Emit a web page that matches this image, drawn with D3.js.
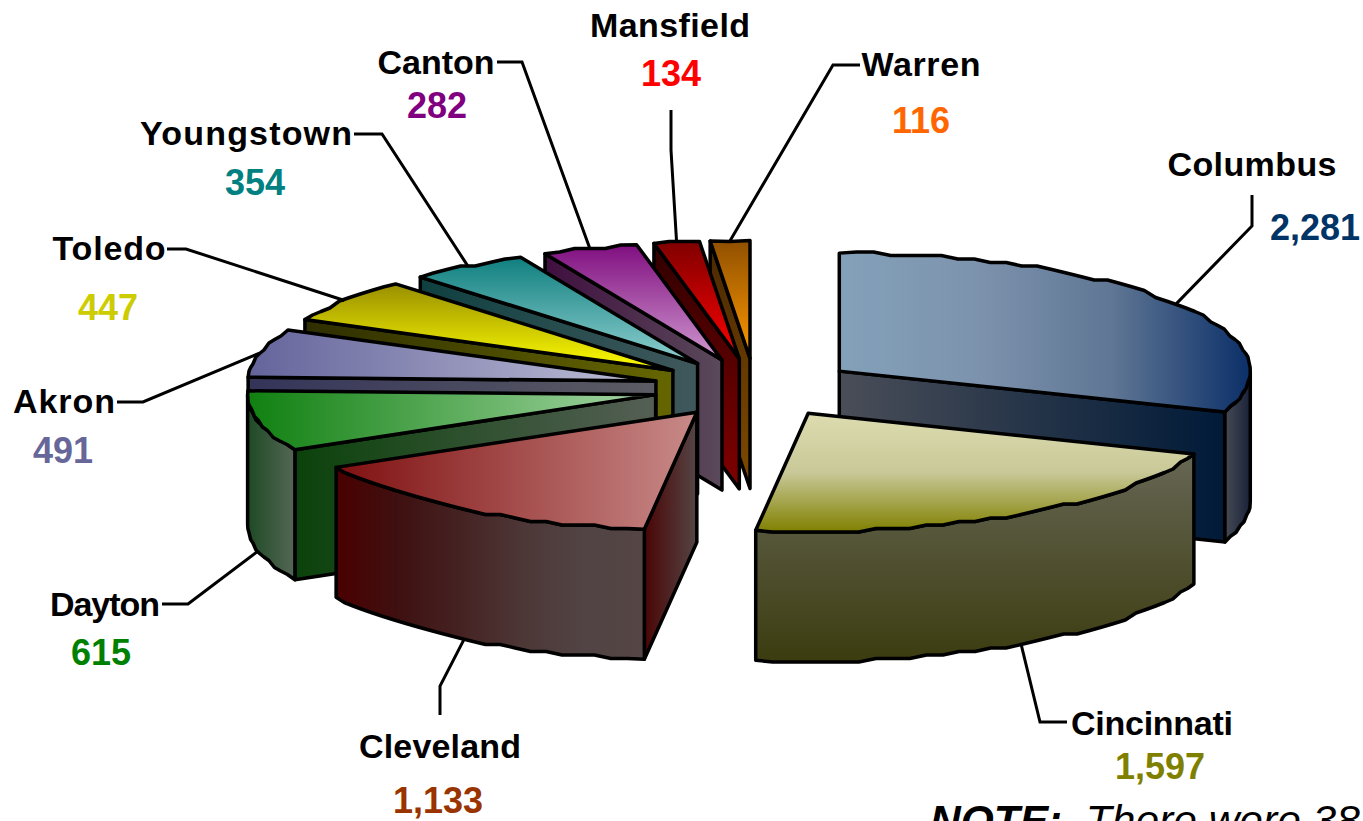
<!DOCTYPE html>
<html><head><meta charset="utf-8">
<script src="https://cdnjs.cloudflare.com/ajax/libs/d3/7.8.5/d3.min.js"></script>
<style>html,body{margin:0;background:#fff;overflow:hidden}svg{display:block}text{font-family:"Liberation Sans",Arial,sans-serif}</style>
</head><body><svg id="c" width="1363" height="821"></svg>
<script>
const cities=["Columbus","Cincinnati","Cleveland","Dayton","Akron","Toledo","Youngstown","Canton","Mansfield","Warren"];
const counts=[2281,1597,1133,615,491,447,354,282,134,116];
const valueLabels=["2,281","1,597","1,133","615","491","447","354","282","134","116"];
const valueColors=["#003366","#808000","#993300","#008000","#666699","#cccc00","#008080","#800080","#ff0000","#ff6600"];
const topFills=[["h","#84a1ba","#7d93ad","#5f7694","#0b2f68"],["v","#dcdcb0","#c8c898","#808000"],["h","#7f1010","#c88a88"],["h","#108010","#a8d8a8"],["h","#64649c","#c0c0d8"],["v","#998f00","#ffff00"],["v","#107f7f","#90d0d0"],["v","#800f80","#d098d0"],["v","#800000","#ff0000"],["v","#905000","#ff9900"]];
const cutFills=[["h","#4a4e58","#001a38"],["h","#4a4a40","#4a4a40"],["h","#4a0505","#554545"],["h","#0b420b","#555f55"],["h","#34345a","#5c5c64"],["h","#2e2e00","#666600"],["h","#0f4040","#40585c"],["h","#3f0f3f","#5a4a5a"],["v","#300000","#800000"],["v","#4a2800","#7f4a00"]];
const rimFills=[["h","#454a55","#1a2238"],["v","#666655","#3c3c10"],["h","#4a0000","#3f1010","#452222","#4d3636","#524444","#554545"],["h","#1e4a25","#556655"],["h","#333","#333"],["h","#333","#333"],["h","#333","#333"],["h","#333","#333"],["h","#333","#333"],["h","#333","#333"]];
// label layout: name centre/baseline and width, value centre/baseline, leader elbow points
const labelLayout=[
 {n:[1252,176],w:169,v:[1315,240],l:[[1252,226],[1252,195]],rim:0},
 {n:[1152,735],w:162,v:[1160,779],l:[[1040,722],[1067,722]],rim:1},
 {n:[440,758],w:162,v:[438,813],l:[[440,686],[440,715]],rim:1},
 {n:[105,616],w:110,v:[101,665],l:[[188,604],[162,604]],rim:1},
 {n:[64,413],w:102,v:[63,463],l:[[143,402],[117,402]],rim:0},
 {n:[109,260],w:113,v:[108,320],l:[[186,249],[167,249]],rim:0},
 {n:[246,145],w:212,v:[255,195],l:[[382,134],[354,134]],rim:0},
 {n:[436,74],w:117,v:[437,118],l:[[522,62],[497,62]],rim:0},
 {n:[670,37],w:160,v:[671,86],l:[[671,150],[671,110]],rim:0},
 {n:[921,76],w:119,v:[921,133],l:[[833,65],[860,65]],rim:0}];
const paintOrder=[9,8,7,6,5,4,3,2,0,1];

const CX=755,CY=388,RX=411,RX_LEFT=408,RY=118,DEPTH=130,EXPLODE=0.25;
const svg=d3.select("#c"),defs=svg.append("defs");
const pie=d3.pie().sort(null).startAngle(0).endAngle(2*Math.PI);
const arcs=pie(counts);
const unit=a=>{const s=Math.sin(a);return [(s<0?RX_LEFT:RX)*s,-RY*Math.cos(a)];};
const line=d3.line();
function apex(d){const m=(d.startAngle+d.endAngle)/2,u=unit(m);return [CX+EXPLODE*u[0],CY+EXPLODE*u[1]];}
function rimPts(d,a0,a1,ap){
  const n=Math.max(1,Math.round((a1-a0)/(Math.PI/75))),pts=[];
  for(let i=0;i<=n;i++){const a=a0+(a1-a0)*i/n,u=unit(a);
    let x=ap[0]+u[0],y=ap[1]+u[1];
    if(i>0&&i<n){y=Math.round(y/3.5)*3.5;}
    pts.push([x,y]);}
  return pts;
}
const grad=(id,spec)=>{
  const g=defs.append("linearGradient").attr("id",id).attr("x1",0).attr("y1",0)
    .attr("x2",spec[0]==="h"?1:0).attr("y2",spec[0]==="v"?1:0);
  const cs=spec.slice(1);
  cs.forEach((c,i)=>g.append("stop").attr("offset",i/(cs.length-1)).attr("stop-color",c));
  return `url(#${id})`;
};
const g=svg.append("g").attr("stroke","#000").attr("stroke-width",3.5).attr("stroke-linejoin","round");
const HALF=Math.PI/2,TH=3*Math.PI/2,PI=Math.PI;
paintOrder.forEach(i=>{
  const d=arcs[i],ap=apex(d),a0=d.startAngle,a1=d.endAngle;
  const down=p=>[p[0],p[1]+DEPTH];
  const rim=rimPts(d,a0,a1,ap);
  let cutA=null;
  if(a0>=PI-0.5&&a0<2*PI) cutA=a0;
  if(a1<=PI) cutA=a1;
  if(i===1) cutA=null;
  if(cutA!==null){
    const u=unit(cutA),p=[ap[0]+u[0],ap[1]+u[1]];
    g.append("path").attr("d",line([ap,p,down(p),down(ap)])+"Z").attr("fill",grad("cut"+i,cutFills[i]));
  }
  const ra0=Math.max(a0,HALF),ra1=Math.min(a1,TH);
  if(ra1>ra0){
    const seg=rimPts(d,ra0,ra1,ap);
    const poly=seg.concat(seg.slice().reverse().map(down));
    g.append("path").attr("d",line(poly)+"Z").attr("fill",grad("rim"+i,rimFills[i]));
  }
  g.append("path").attr("d",line([ap].concat(rim))+"Z").attr("fill",grad("top"+i,topFills[i]));
});
arcs.forEach((d,i)=>{
  const L=labelLayout[i],ap=apex(d),m=(d.startAngle+d.endAngle)/2,u=unit(m);
  const s=[ap[0]+u[0],ap[1]+u[1]+(L.rim?DEPTH:0)];
  svg.append("path").attr("d",line([s].concat(L.l))).attr("fill","none").attr("stroke","#000").attr("stroke-width",3);
  svg.append("text").attr("x",L.n[0]).attr("y",L.n[1]).attr("text-anchor","middle")
    .attr("font-size",34).attr("font-weight","bold").attr("fill","#000")
    .attr("textLength",L.w).attr("lengthAdjust","spacing").text(cities[i]);
  svg.append("text").attr("x",L.v[0]).attr("y",L.v[1]).attr("text-anchor","middle")
    .attr("font-size",36).attr("font-weight","bold").attr("fill",valueColors[i]).text(valueLabels[i]);
});
const note=svg.append("text").attr("x",930).attr("y",835).attr("font-size",42.5).attr("font-style","italic").style("white-space","pre");
note.append("tspan").attr("font-weight","bold").text("NOTE:");
note.append("tspan").text("  There were 38");
</script></body></html>
